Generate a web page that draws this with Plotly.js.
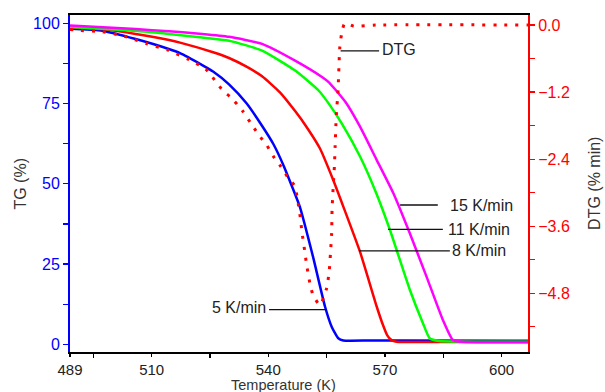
<!DOCTYPE html>
<html>
<head>
<meta charset="utf-8">
<script src="https://cdn.plot.ly/plotly-3.0.1.min.js"></script>
<style>html,body{margin:0;padding:0;background:#fff;}#chart{width:605px;height:392px;}</style>
</head>
<body>
<div id="chart"></div>
<script>
// TG curves (left axis, %)
const tg5_T  = [489, 497.3, 505.9, 514.4, 517.3, 523.0, 525.8, 529.9, 534.4, 538.0, 541.3, 544.0, 546.0, 548.1, 551.5, 554.6, 556.3, 558.0, 559.3, 566.0, 573.8, 606.8];
const tg5_V  = [98.3, 97.7, 95.1, 92.0, 90.7, 87.0, 85.0, 81.0, 75.1, 68.8, 62.4, 55.5, 49.5, 42.9, 27.3, 11.7, 5.5, 1.9, 1.2, 1.2, 1.2, 1.1];

const tg8_T  = [489, 497.2, 505.9, 514.5, 517.3, 525.8, 529.9, 534.4, 538.4, 543.0, 547.0, 549.8, 553.3, 556.7, 559.3, 563.6, 567.9, 569.5, 570.6, 571.7, 573.0, 575.0, 590.0, 606.8];
const tg8_V  = [98.7, 98.2, 96.7, 94.8, 94.0, 91.0, 89.2, 86.5, 83.5, 78.5, 72.5, 67.8, 61.0, 51.2, 42.9, 28.8, 11.7, 6.0, 2.8, 1.3, 0.8, 0.7, 0.7, 0.7];

const tg11_T = [489, 505.9, 514.5, 523.0, 529.9, 538.4, 547.0, 553.0, 555.6, 559.0, 563.6, 567.8, 571.3, 576.4, 579.8, 581.5, 584.1, 595.0, 606.8];
const tg11_V = [98.9, 97.7, 96.7, 95.6, 94.6, 91.5, 85.2, 79.0, 74.9, 68.6, 58.5, 47.0, 35.6, 17.0, 6.5, 1.9, 1.0, 0.8, 0.8];

const tg15_T = [489, 505.9, 514.5, 523.0, 529.9, 538.4, 547.0, 553.9, 555.6, 559.9, 563.6, 567.9, 572.2, 576.4, 580.7, 584.9, 587.5, 590.0, 598.0, 606.8];
const tg15_V = [99.3, 98.2, 97.5, 96.7, 95.8, 93.6, 88.3, 83.2, 81.6, 75.4, 67.8, 57.4, 47.0, 34.6, 21.1, 7.6, 1.3, 0.8, 0.6, 0.6];

// DTG curve (right axis, % min)
const dtg_T = [489, 491.8, 497.3, 502.9, 508.6, 514.2, 519.6, 523.9, 528.4, 530.3, 533.3, 536.1, 537.8, 539.6, 541.4, 543.2, 544.9, 546.8, 547.4, 547.9, 548.3, 548.6, 549.4, 549.8, 550.7, 551.5, 553.3, 555.0, 555.7, 556.0, 556.3, 556.4, 556.7, 557.0, 557.2, 557.4, 557.6, 557.9, 558.1, 558.4, 559.0, 559.7, 562.0, 567.6, 606.8];
const dtg_V = [-0.08, -0.10, -0.12, -0.20, -0.33, -0.45, -0.62, -0.79, -1.18, -1.29, -1.53, -1.82, -1.99, -2.15, -2.36, -2.53, -2.71, -2.88, -3.07, -3.28, -3.48, -3.67, -4.06, -4.26, -4.62, -4.83, -5.01, -4.71, -4.38, -4.08, -3.72, -3.31, -2.89, -2.53, -2.15, -1.76, -1.50, -1.23, -0.88, -0.40, -0.10, 0.03, -0.02, 0.0, 0.0];

const xTicks = [489, 510, 540, 570, 600];
const xMinor = [495, 525, 555, 585];
const tgTicks = [0, 25, 50, 75, 100];
const tgMinor = [12.5, 37.5, 62.5, 87.5];
const dtgTicks = [0, -1.2, -2.4, -3.6, -4.8];
const dtgTickText = ['0.0', '\u22121.2', '\u22122.4', '\u22123.6', '\u22124.8'];
const dtgMinor = [-0.6, -1.8, -3.0, -4.2, -5.4];

const labels = [
  {text: 'DTG',      x: 568.9, y: 92.0, anchor: 'left',  lx0: 558.6, lx1: 568.5, ly: 91.4},
  {text: '15 K/min', x: 586.4, y: 43.4, anchor: 'left',  lx0: 573.9, lx1: 583.6, ly: 43.4},
  {text: '11 K/min', x: 586.0, y: 35.8, anchor: 'left',  lx0: 570.8, lx1: 584.9, ly: 35.8},
  {text: '8 K/min',  x: 587.1, y: 29.1, anchor: 'left',  lx0: 563.4, lx1: 586.7, ly: 29.1},
  {text: '5 K/min',  x: 539.6, y: 11.6, anchor: 'right', lx0: 540.2, lx1: 555.0, ly: 10.8}
];

const FONT = 'Liberation Sans, Arial, sans-serif';
const BLUE = '#0000ff', RED = '#ff0000', GREEN = '#00ff00', MAG = '#ff00ff';

const sp = (c) => ({color: c, width: 2.5, shape: 'spline', smoothing: 0.5});
const traces = [
  {x: tg5_T,  y: tg5_V,  mode: 'lines', line: sp(BLUE), yaxis: 'y'},
  {x: tg8_T,  y: tg8_V,  mode: 'lines', line: sp(RED), yaxis: 'y'},
  {x: tg11_T, y: tg11_V, mode: 'lines', line: sp(GREEN), yaxis: 'y'},
  {x: tg15_T, y: tg15_V, mode: 'lines', line: sp(MAG), yaxis: 'y'},
  {x: dtg_T,  y: dtg_V,  mode: 'lines', line: {color: RED, width: 3, dash: '3px,8px', shape: 'spline', smoothing: 0.6}, yaxis: 'y2'}
];

const annotations = labels.map(l => ({
  text: l.text, x: l.x, y: l.y, xref: 'x', yref: 'y', showarrow: false,
  xanchor: l.anchor, yanchor: 'middle', borderpad: 0,
  font: {family: FONT, size: 16, color: '#222'}
}));
annotations.push(
  {text: 'Temperature (K)', xref: 'paper', yref: 'paper', x: 0.467, y: -0.099, xanchor: 'center', yanchor: 'middle', showarrow: false, font: {family: FONT, size: 14.5, color: '#333'}},
  {text: 'TG (%)', xref: 'paper', yref: 'paper', x: -0.109, y: 0.50, xanchor: 'center', yanchor: 'middle', textangle: -90, showarrow: false, font: {family: FONT, size: 16, color: '#333'}},
  {text: 'DTG (% min)', xref: 'paper', yref: 'paper', x: 1.145, y: 0.50, xanchor: 'center', yanchor: 'middle', textangle: -90, showarrow: false, font: {family: FONT, size: 16, color: '#333'}}
);

const shapes = labels.map(l => ({
  type: 'line', xref: 'x', yref: 'y', x0: l.lx0, x1: l.lx1, y0: l.ly, y1: l.ly,
  line: {color: '#111', width: 1.3}
}));

const layout = {
  width: 605, height: 392,
  margin: {l: 70, r: 77, t: 15, b: 40, pad: 0},
  paper_bgcolor: '#fff', plot_bgcolor: '#fff',
  showlegend: false, hovermode: false,
  xaxis: {
    range: [489, 606.8], tickvals: xTicks, ticktext: xTicks.map(String),
    ticks: 'outside', ticklen: 3, tickwidth: 1.2, tickcolor: '#000',
    minor: {tickvals: xMinor, ticks: 'outside', ticklen: 4, tickwidth: 1.2, tickcolor: '#000'},
    showline: true, linecolor: '#000', linewidth: 2, mirror: true,
    showgrid: false, zeroline: false,
    tickfont: {family: FONT, size: 15, color: '#222'}
  },
  yaxis: {
    range: [-2.4, 102.6], tickvals: tgTicks, ticktext: tgTicks.map(String),
    ticks: 'outside', ticklen: 5, tickwidth: 1.2, tickcolor: BLUE,
    minor: {tickvals: tgMinor, ticks: 'outside', ticklen: 5, tickwidth: 1.2, tickcolor: BLUE},
    showline: true, linecolor: BLUE, linewidth: 2,
    showgrid: false, zeroline: false,
    tickfont: {family: FONT, size: 16, color: BLUE}
  },
  yaxis2: {
    overlaying: 'y', side: 'right', anchor: 'x',
    range: [-5.85, 0.179], tickvals: dtgTicks, ticktext: dtgTickText,
    ticks: 'outside', ticklen: 5, tickwidth: 1.2, tickcolor: RED,
    minor: {tickvals: dtgMinor, ticks: 'outside', ticklen: 5, tickwidth: 1.2, tickcolor: RED},
    showline: true, linecolor: RED, linewidth: 2,
    showgrid: false, zeroline: false,
    tickfont: {family: FONT, size: 16, color: RED}
  },
  annotations: annotations,
  shapes: shapes
};

Plotly.newPlot('chart', traces, layout, {displayModeBar: false, staticPlot: true});
</script>
</body>
</html>
